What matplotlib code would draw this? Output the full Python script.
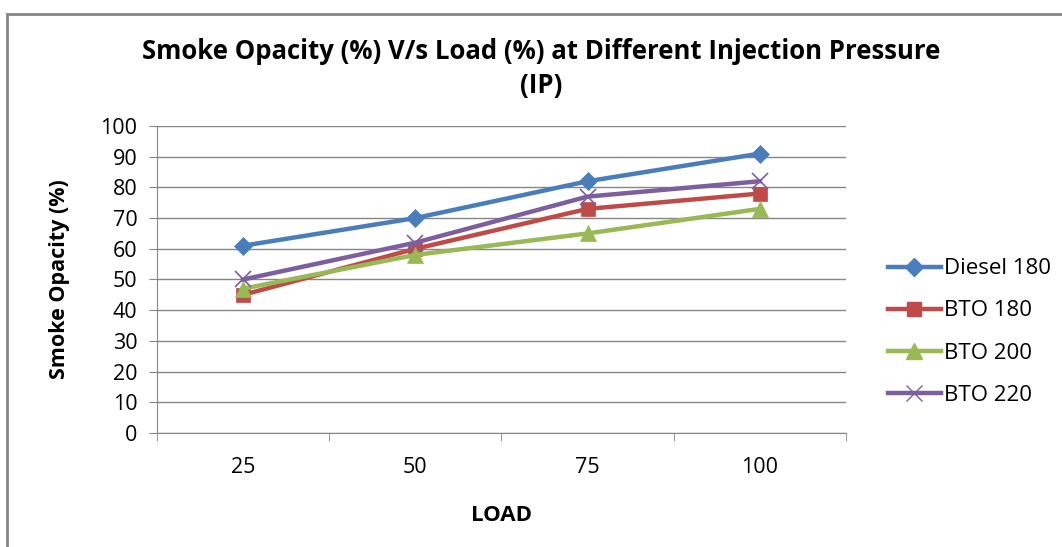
import matplotlib.pyplot as plt
from matplotlib.patches import Rectangle
from matplotlib.lines import Line2D

plt.rcParams['font.family'] = ['Open Sans', 'DejaVu Sans']

loads = ['25', '50', '75', '100']
diesel_180 = [61, 70, 82, 91]
bto_180 = [45, 60, 73, 78]
bto_200 = [47, 58, 65, 73]
bto_220 = [50, 62, 77, 82]

series = [
    ('Diesel 180', diesel_180, '#4a7ebb', 'D', 9),
    ('BTO 180', bto_180, '#be4b48', 's', 10),
    ('BTO 200', bto_200, '#98b954', '^', 11),
    ('BTO 220', bto_220, '#7d5fa0', 'x', 11),
]

fig = plt.figure(figsize=[10.62, 5.47], dpi=100)
ax = fig.add_axes([0.1478, 0.2084, 0.6488, 0.5613])

# outer chart frame, runs off the right and bottom edges
fig.patches.append(Rectangle((7/1062, -0.1), 1.2, 1 - 14/547 + 0.1,
                             transform=fig.transFigure, fill=False,
                             edgecolor='#868686', linewidth=2))

x = list(range(len(loads)))
handles = []
for name, vals, col, mk, ms in series:
    ax.plot(x, vals, color=col, linewidth=3.2, marker=mk, markersize=ms,
            markeredgewidth=1.2 if mk == 'x' else 0.5,
            markeredgecolor=col, zorder=3)
    handles.append(Line2D([], [], color=col, linewidth=3.2, marker=mk,
                          markersize=ms, markeredgecolor=col))

ax.set_xlim(-0.5, len(loads) - 0.5)
ax.set_ylim(0, 100)
ax.set_yticks(range(0, 101, 10))
ax.set_xticks(x)
ax.set_xticklabels(loads)
ax.set_xticks([i - 0.5 for i in range(len(loads) + 1)], minor=True)
ax.tick_params(axis='x', which='major', length=0, pad=17, labelsize=15.5)
ax.tick_params(axis='x', which='minor', length=6, color='#868686')
ax.tick_params(axis='y', length=6, color='#868686', labelsize=15.5, pad=8)
ax.grid(axis='y', color='#868686', linewidth=1)
ax.set_axisbelow(True)
for s in ['top', 'right']:
    ax.spines[s].set_visible(False)
ax.spines['left'].set_color('#868686')
ax.spines['bottom'].set_color('#868686')

ax.set_xlabel('LOAD', fontsize=16, fontweight='bold')
ax.xaxis.set_label_coords(0.5, -0.235)
ax.set_ylabel('Smoke Opacity (%)', fontsize=15.5, fontweight='bold')
ax.yaxis.set_label_coords(-0.126, 0.5)
fig.text(0.51, 0.905, 'Smoke Opacity (%) V/s Load (%) at Different Injection Pressure',
         ha='center', va='center', fontsize=18.5, fontweight='bold')
fig.text(0.51, 0.843, '(IP)', ha='center', va='center', fontsize=18.5, fontweight='bold')

fig.legend(handles, [s[0] for s in series], loc='center left',
           bbox_to_anchor=(0.817, 0.393), frameon=False, fontsize=16,
           handlelength=2.4, labelspacing=0.95, handletextpad=0.15)

fig.savefig('out.png', dpi=100)
